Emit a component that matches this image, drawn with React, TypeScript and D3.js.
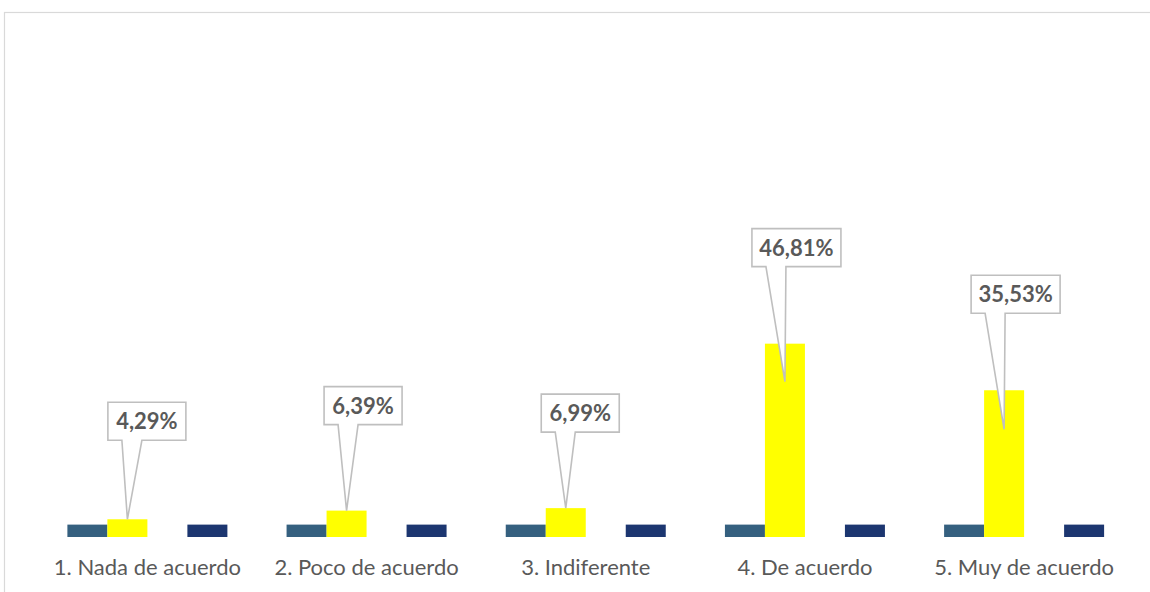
import React from "react";
import * as d3 from "d3";

const categories = [
  "1. Nada de acuerdo",
  "2. Poco de acuerdo",
  "3. Indiferente",
  "4. De acuerdo",
  "5. Muy de acuerdo",
];
const seriesKeys = ["s1", "s2", "s3", "s4"];
const series1 = [3, 3, 3, 3, 3];
const series2 = [4.29, 6.39, 6.99, 46.81, 35.53];
const series3: (number | null)[] = [null, null, null, null, null];
const series4 = [3, 3, 3, 3, 3];
const seriesColors = ["#35607f", "#ffff00", "#4472c4", "#1c3670"];
const valueLabels = ["4,29%", "6,39%", "6,99%", "46,81%", "35,53%"];

// callout styling offsets (px): box center dx from bar center, box bottom dy from bar top, tip dy from bar top
const calloutDx = [19.5, 16.5, 14.5, 11.5, 11.5];
const calloutDy = [-79, -86, -76, -77, -77];
const tipDy = [0, 0, 0, 38, 39];

const W = 1150;
const H = 592;
const FONT = "Lato, 'Open Sans', sans-serif";

export default function App() {
  const x = d3
    .scaleBand<string>()
    .domain(categories)
    .range([37.8, 1133.7])
    .paddingInner(0.27)
    .paddingOuter(0.135);
  const xs = d3
    .scaleBand<string>()
    .domain(seriesKeys)
    .range([0, x.bandwidth()])
    .padding(0);
  const y = d3.scaleLinear().domain([0, 100]).range([537, 124]);

  const allSeries = [series1, series2, series3, series4];

  return (
    <svg
      width={W}
      height={H}
      style={{ position: "absolute", left: 0, top: 0, background: "#fff" }}
    >
      <rect x={4.5} y={12.5} width={W + 10} height={H + 10} fill="#fff" stroke="#d9d9d9" strokeWidth={1.2} />
      {categories.map((c, i) => (
        <g key={c} transform={`translate(${x(c)},0)`}>
          {allSeries.map((s, j) => {
            const v = s[i];
            if (v == null) return null;
            return (
              <rect
                key={j}
                x={xs(seriesKeys[j])}
                y={y(v)}
                width={xs.bandwidth()}
                height={y(0) - y(v)}
                fill={seriesColors[j]}
              />
            );
          })}
        </g>
      ))}
      {categories.map((c, i) => {
        const bx = (x(c) as number) + (xs("s2") as number) + xs.bandwidth() / 2;
        const top = y(series2[i]);
        const label = valueLabels[i];
        const bw = label.length > 5 ? 89 : 78;
        const bh = 38;
        const cx = bx + calloutDx[i];
        const bottom = top + calloutDy[i];
        const left = cx - bw / 2;
        const right = cx + bw / 2;
        const topY = bottom - bh;
        const p1 = left + 14;
        const p2 = left + 34;
        const tipX = bx;
        const tipY = top + tipDy[i];
        const path = `M${left},${topY} L${right},${topY} L${right},${bottom} L${p2},${bottom} L${tipX},${tipY} L${p1},${bottom} L${left},${bottom} Z`;
        return (
          <g key={`lab${i}`}>
            <path d={path} fill="#fff" stroke="#bfbfbf" strokeWidth={1.6} strokeLinejoin="miter" />
            <text
              x={cx}
              y={bottom - bh / 2}
              dy="0.36em"
              textAnchor="middle"
              fontFamily={FONT}
              fontWeight="bold"
              fontSize={22}
              fill="#595959"
            >
              {label}
            </text>
          </g>
        );
      })}
      {categories.map((c) => (
        <text
          key={`x${c}`}
          x={(x(c) as number) + x.bandwidth() / 2}
          y={575}
          textAnchor="middle"
          fontFamily={FONT}
          fontSize={22}
          fill="#595959"
        >
          {c}
        </text>
      ))}
    </svg>
  );
}
